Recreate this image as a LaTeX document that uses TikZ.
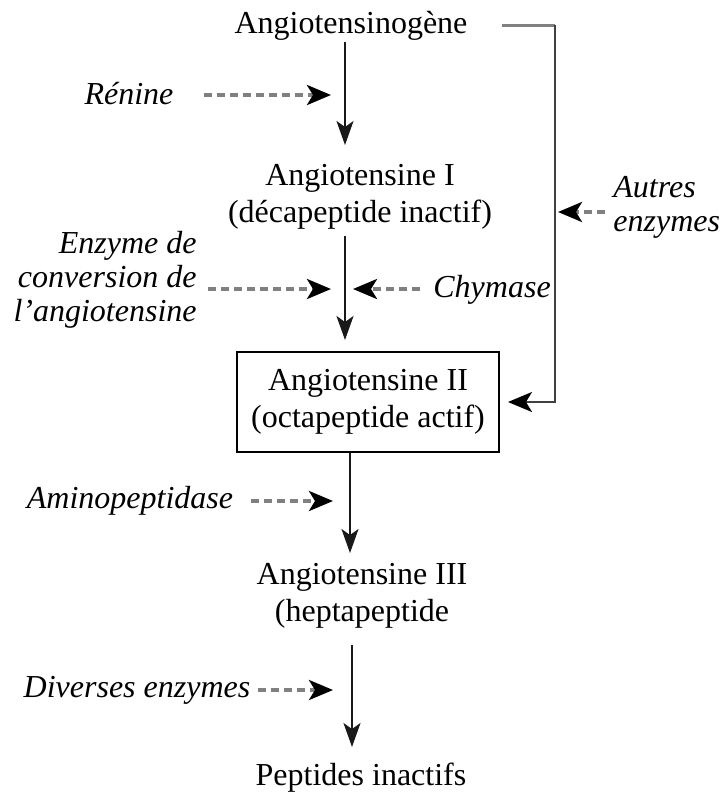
\documentclass[tikz,border=0pt]{standalone}
\usepackage{fontspec}
\setmainfont{Liberation Serif}
\usetikzlibrary{arrows.meta}

\begin{document}
\begin{tikzpicture}[
  x=0.5pt, y=-0.5pt,
  every node/.style={font=\fontsize{16}{18.5}\selectfont, inner sep=0pt},
  stage/.style={align=center},
  enzyme/.style={font=\fontsize{16}{17}\selectfont\itshape},
  flow/.style={draw=black!90, line width=1pt, -{Stealth[length=12pt, width=8.5pt, inset=3pt]}},
  act/.style={draw=black!50, line width=1.8pt, dash pattern=on 4pt off 2.5pt,
    -{Stealth[black, length=12pt, width=10pt, inset=3pt]}},
  bypass/.style={draw=black!75, line width=1pt, -{Stealth[black, length=12pt, width=10pt, inset=3pt]}}
]
\path[use as bounding box] (0,0) rectangle (723,794);

% cascade
\node[anchor=base] (ago) at (351,33) {Angiotensinogène};
\node[stage] (a1) at (360,197) {Angiotensine I\\(décapeptide inactif)};
\node[stage, draw, line width=1pt, minimum width=131pt, minimum height=50pt] (a2) at (368,402)
  {Angiotensine II\\(octapeptide actif)};
\node[stage] (a3) at (362,596) {Angiotensine III\\(heptapeptide};
\node[anchor=base] (pep) at (361,785) {Peptides inactifs};

% enzymes
\node[enzyme, anchor=base] (ren) at (129,104) {Rénine};
\node[enzyme, align=right, anchor=east] (ace) at (197,280) {Enzyme de\\conversion de\\l'angiotensine};
\node[enzyme, anchor=base west] (chy) at (433,297) {Chymase};
\node[enzyme, align=left, anchor=west] (aut) at (613,207) {Autres\\enzymes};
\node[enzyme, anchor=base] (amp) at (130,508) {Aminopeptidase};
\node[enzyme, anchor=base] (div) at (137,697) {Diverses enzymes};

% tips
\coordinate (c1) at (345,145);
\coordinate (c2) at (345,340);
\coordinate (c3) at (350,553);
\coordinate (c4) at (352,747);
\coordinate (t-ren) at (331,95);
\coordinate (t-ace) at (331,289);
\coordinate (t-chy) at (353,289);
\coordinate (t-aut) at (558,212);
\coordinate (t-amp) at (333,501);
\coordinate (t-div) at (333,690);
\coordinate (byTop) at (555,25);
\coordinate (byBot) at (555,402);

\draw[flow, shorten <=1pt] (ago.south -| c1) -- (c1);
\draw[flow, shorten <=3pt] (a1.south -| c2) -- (c2);
\draw[flow] (a2.south -| c3) -- (c3);
\draw[flow, shorten <=8pt] (a3.south -| c4) -- (c4);

\draw[act, shorten <=15pt] (ren.east |- t-ren) -- (t-ren);
\draw[act, shorten <=5.5pt] (ace.east |- t-ace) -- (t-ace);
\draw[act, shorten <=6.5pt] (chy.west |- t-chy) -- (t-chy);
\draw[act, shorten <=4pt] (aut.west |- t-aut) -- (t-aut);
\draw[act, shorten <=9pt] (amp.east |- t-amp) -- (t-amp);
\draw[act, shorten <=3.5pt] (div.east |- t-div) -- (t-div);

\draw[draw=black!50, line width=1.5pt, shorten <=17pt] (ago.east |- byTop) -- (byTop);
\draw[bypass, shorten >=4pt] (byTop) -- (byBot) -- (a2.east |- byBot);
\end{tikzpicture}
\end{document}
